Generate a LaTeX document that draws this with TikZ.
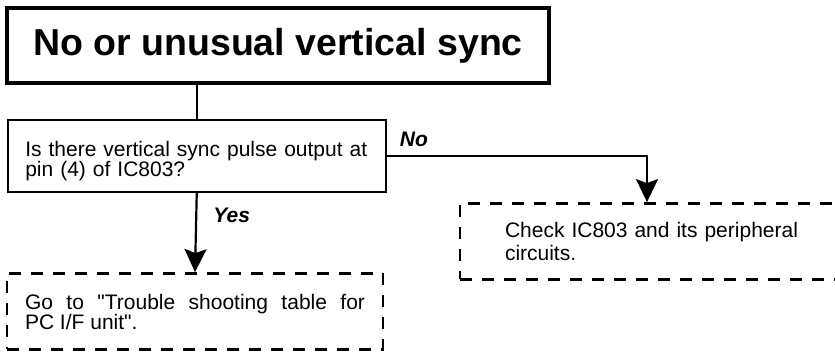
\documentclass[tikz,border=0pt]{standalone}
\usepackage{fontspec}
\setmainfont{Liberation Sans}
\usetikzlibrary{arrows.meta,positioning}
\definecolor{ink}{HTML}{000000}
\tikzset{
  titlebox/.style={draw=ink,line width=4.5pt,
                   minimum width=542pt,minimum height=75pt,inner sep=0pt,
                   font=\fontsize{37.5}{40}\selectfont\bfseries},
  askbox/.style={draw=ink,line width=2.2pt,
                 minimum width=378pt,minimum height=72pt,
                 inner xsep=0pt,inner ysep=0pt,text width=343pt,align=left,
                 font=\fontsize{21}{20}\selectfont},
  endbox/.style={draw=ink,line width=2.8pt,dash pattern=on 12pt off 10pt,
                 minimum height=76pt,inner xsep=0pt,inner ysep=0pt,
                 font=\fontsize{21}{20}\selectfont},
  link/.style={draw=ink,line width=2.2pt},
  linkarr/.style={link,-{Stealth[length=23pt,width=22pt,inset=4pt]}},
  answer/.style={font=\fontsize{21}{21}\selectfont\bfseries\itshape,inner sep=0pt}
}

\begin{document}
\begin{tikzpicture}[x=1pt,y=-1pt]
  \useasboundingbox (0,0) rectangle (835,352);

  % heading and the question
  \node[titlebox] (title) at (278,45.5) {No or unusual vertical sync};
  \node[askbox] (ask) at (196.75,156)
    {\rule{0pt}{26pt}Is there vertical sync pulse output at\\pin (4) of IC803?};

  % the two outcomes
  \node[endbox,minimum width=376pt,text width=340pt,align=justify] (gotable) at (195,311.5)
    {Go to \textquotedbl Trouble shooting table for\linebreak PC I/F unit\textquotedbl.};
  \node[endbox,minimum width=390pt,text width=300pt,align=left,
        font=\fontsize{21}{23}\selectfont] (checkic) at (655,241.5)
    {\hyphenpenalty=10000 Check IC803 and its peripheral\\circuits.};

  % connectors
  \draw[link] (title.south -| ask.north) -- (ask.north);
  \draw[linkarr] (ask.south) -- node[answer,pos=0.28,anchor=west,xshift=16pt] (yeslbl) {Yes} (gotable.north);
  \draw[linkarr] (ask.east) -| node[answer,pos=0.023,anchor=south west,yshift=8pt] (nolbl) {No} ([xshift=-8pt]checkic.north);
\end{tikzpicture}
\end{document}
